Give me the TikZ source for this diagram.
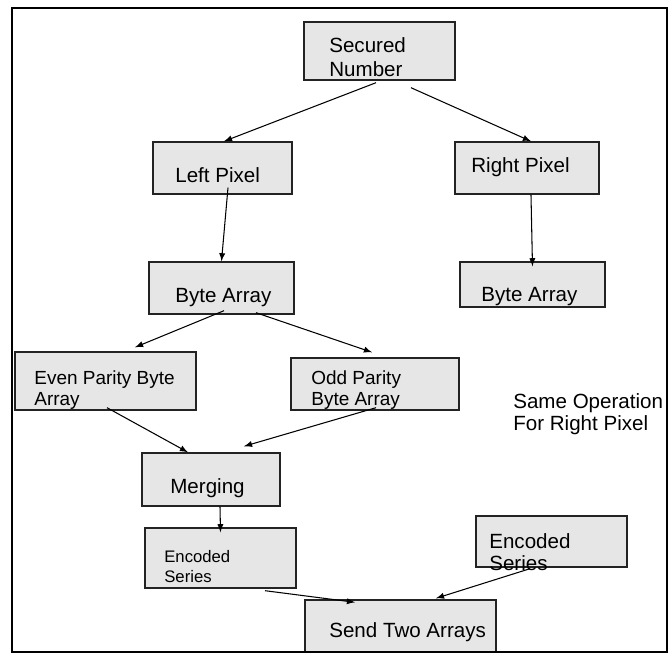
\documentclass[tikz,border=0pt]{standalone}
\usepackage{fontspec}
\setmainfont{Liberation Sans}
\usepackage{tikz}
\definecolor{boxgray}{RGB}{230,230,230}
\definecolor{edge}{RGB}{35,35,35}

\begin{document}
\begin{tikzpicture}[scale=0.2,
    blk/.style={draw=edge, line width=0.8pt, fill=boxgray},
    txt/.style={anchor=north west, align=left, font=\fontsize{11.7}{12.5}\selectfont},
    flow/.style={black, line width=0.6pt, -latex}]
    \tikzstyle{every node}+=[inner sep=0pt]
    \useasboundingbox (0,0) rectangle (67,-65.3);
    \draw [black, line width=1.1pt, fill=white] (1.2,-0.8) rectangle (66.7,-65.2);
    \node [blk, minimum width=3.02cm, minimum height=1.16cm] (sn) at (37.95,-5.1) {};
    \node [blk, minimum width=2.78cm, minimum height=1.04cm] (lp) at (22.25,-16.8) {};
    \node [blk, minimum width=2.88cm, minimum height=1.04cm] (rp) at (52.7,-16.8) {};
    \node [blk, minimum width=2.9cm, minimum height=1.04cm] (bal) at (22.15,-28.8) {};
    \node [blk, minimum width=2.9cm, minimum height=0.9cm] (bar) at (53.25,-28.45) {};
    \node [blk, minimum width=3.62cm, minimum height=1.16cm] (even) at (10.55,-38.1) {};
    \node [blk, minimum width=3.36cm, minimum height=1.04cm] (odd) at (37.5,-38.4) {};
    \node [blk, minimum width=2.76cm, minimum height=1.06cm] (mer) at (21.1,-47.95) {};
    \node [blk, minimum width=3.02cm, minimum height=1.2cm] (encl) at (22.05,-55.8) {};
    \node [blk, minimum width=3.02cm, minimum height=1.02cm] (encr) at (55.15,-54.15) {};
    \node [blk, minimum width=3.82cm, minimum height=1.04cm] (send) at (40.05,-62.6) {};
    \node [txt] (snt) at (32.9,-3.7) {Secured\\[1.5pt]Number};
    \node [txt] (lpt) at (17.5,-16.7) {Left Pixel};
    \node [txt] (rpt) at (47.1,-15.7) {Right Pixel};
    \node [txt] (balt) at (17.5,-28.8) {Byte Array};
    \node [txt] (bart) at (48.1,-28.7) {Byte Array};
    \node [txt, font=\fontsize{10.8}{12.4}\selectfont] (event) at (3.4,-37.0) {Even Parity Byte\\Array};
    \node [txt, font=\fontsize{10.8}{12.4}\selectfont] (oddt) at (31.1,-37.0) {Odd Parity\\Byte Array};
    \node [txt] (samet) at (51.3,-39.3) {Same Operation\\For Right Pixel};
    \node [txt] (mert) at (17.0,-47.8) {Merging};
    \node [txt, font=\fontsize{9.5}{11.4}\selectfont] (enclt) at (16.4,-55.0) {Encoded\\Series};
    \node [txt] (encrt) at (48.9,-53.3) {Encoded\\Series};
    \draw [flow] ([xshift=-0.35cm,yshift=-0.2cm]sn.south) -- ([xshift=0.15cm]lp.north);
    \draw [flow] ([xshift=3.15cm,yshift=-0.7cm]sn.south) -- ([xshift=0.4cm]rp.north);
    \draw [flow] ([xshift=0.55cm,yshift=0.7cm]lp.south) -- (bal.north);
    \draw [flow] ([xshift=0.4cm]rp.south) -- ([yshift=-0.5cm]bar.north);
    \draw [flow] ([xshift=0.25cm,yshift=0.4cm]bal.south) -- ([xshift=2.95cm,yshift=0.4cm]even.north);
    \draw [flow] ([xshift=3.45cm,yshift=0.2cm]bal.south) -- ([xshift=-0.3cm,yshift=0.5cm]odd.north);
    \draw [flow] ([xshift=0.15cm,yshift=0.3cm]even.south) -- ([xshift=-2.3cm]mer.north);
    \draw [flow] ([xshift=0.1cm,yshift=0.3cm]odd.south) -- ([xshift=3.3cm,yshift=0.6cm]mer.north);
    \draw [flow] ([xshift=0.9cm]mer.south) -- ([yshift=-0.5cm]encl.north);
    \draw [flow] ([xshift=4.45cm,yshift=-0.2cm]encl.south) -- ([xshift=-4.55cm,yshift=-0.3cm]send.north);
    \draw [flow] ([xshift=-2.15cm,yshift=-0.1cm]encr.south) -- ([xshift=3.55cm,yshift=0.1cm]send.north);
    \node [txt] (sendt) at (32.9,-62.2) {Send Two Arrays};
    \draw [black, line width=1.1pt] (1.2,-65.2) -- (66.7,-65.2);
\end{tikzpicture}
\end{document}
